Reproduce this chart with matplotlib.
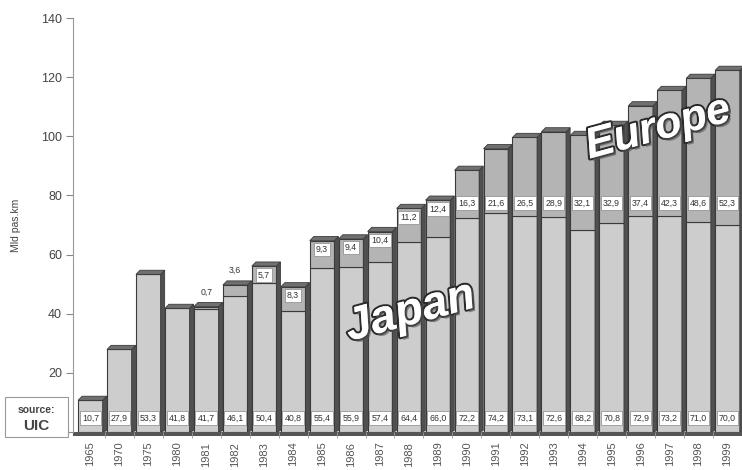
import matplotlib
matplotlib.use('Agg')
import matplotlib.pyplot as plt
import matplotlib.patheffects as pe
from matplotlib.patches import Polygon, Rectangle
import numpy as np

plt.rcParams['font.family'] = ['Liberation Sans', 'DejaVu Sans']

years = ['1965', '1970', '1975', '1980', '1981', '1982', '1983', '1984',
         '1985', '1986', '1987', '1988', '1989', '1990', '1991', '1992',
         '1993', '1994', '1995', '1996', '1997', '1998', '1999']
japan = [10.7, 27.9, 53.3, 41.8, 41.7, 46.1, 50.4, 40.8, 55.4, 55.9, 57.4,
         64.4, 66.0, 72.2, 74.2, 73.1, 72.6, 68.2, 70.8, 72.9, 73.2, 71.0, 70.0]
europe = [0, 0, 0, 0, 0.7, 3.6, 5.7, 8.3, 9.3, 9.4, 10.4, 11.2, 12.4, 16.3,
          21.6, 26.5, 28.9, 32.1, 32.9, 37.4, 42.3, 48.6, 52.3]

def fmt(v):
    return ('%.1f' % v).replace('.', ',')

fig = plt.figure(figsize=(7.42, 4.70), dpi=100)
ax = fig.add_axes([73 / 742, 38 / 470, 669 / 742, 414 / 470])

x = np.arange(len(years))
jp = np.array(japan)
eu = np.array(europe)
tot = jp + eu
w = 0.85
dx, dy = 0.14, 1.4  # fake 3d depth

c_jp = '#cdcdcd'
c_eu = '#b4b4b4'
c_side = '#505050'
c_top = '#707070'
c_edge = '#3a3a3a'

# floor
ax.add_patch(Polygon([(-0.6, 0), (23, 0), (23, -1.3), (-0.6, -1.3)],
                     closed=True, fc='#555555', ec='none', clip_on=False, zorder=1))

ax.bar(x, jp, w, color=c_jp, edgecolor=c_edge, linewidth=0.8, zorder=2)
ax.bar(x, eu, w, bottom=jp, color=c_eu, edgecolor=c_edge, linewidth=0.8, zorder=2)

for i in range(len(x)):
    l, r = x[i] - w / 2, x[i] + w / 2
    t = tot[i]
    ax.add_patch(Polygon([(r, 0), (r + dx, dy * 0.3), (r + dx, t + dy), (r, t)],
                         closed=True, fc=c_side, ec=c_edge, lw=0.6, zorder=2))
    ax.add_patch(Polygon([(l, t), (l + dx, t + dy), (r + dx, t + dy), (r, t)],
                         closed=True, fc=c_top, ec=c_edge, lw=0.6, zorder=2))

lab_box = dict(boxstyle='square,pad=0.25', fc='white', ec='#888888', lw=0.5)
for i in range(len(x)):
    ax.text(x[i], 4.7, fmt(jp[i]), ha='center', va='center', fontsize=6.3,
            color='#333333', bbox=lab_box, zorder=4)
    if eu[i] == 0:
        continue
    if eu[i] < 5:
        ax.text(x[i], tot[i] + 5, fmt(eu[i]), ha='center', va='center',
                fontsize=6.3, color='#333333', zorder=4)
    else:
        ax.text(x[i], min(tot[i] - 3.0, 77.5), fmt(eu[i]), ha='center',
                va='center', fontsize=6.3, color='#333333', bbox=lab_box, zorder=4)

big = dict(fontweight='bold', style='italic', color='white',
           ha='center', va='center', zorder=5,
           path_effects=[pe.withStroke(linewidth=3, foreground='#2a2a2a'),
                         pe.SimplePatchShadow(offset=(2, -2), shadow_rgbFace='#555555', alpha=0.6),
                         pe.Normal()])
ax.text(11.05, 40.5, 'Japan', rotation=15, fontsize=33, **big)
ax.text(19.6, 102.5, 'Europe', rotation=15, fontsize=31, **big)

ax.set_xlim(-0.6, 22.24)
ax.set_ylim(0, 140)
ax.set_yticks(np.arange(0, 141, 20))
ax.set_yticklabels([''] + [str(v) for v in range(20, 141, 20)])
ax.set_xticks(x)
ax.set_xticklabels(years, rotation=90, fontsize=8, color='#555555')
ax.set_xticks(x + 0.5, minor=True)
ax.tick_params(axis='x', which='major', length=0, pad=7)
ax.tick_params(axis='x', which='minor', length=4, color='#999999')
ax.tick_params(axis='y', length=5, color='#888888', labelsize=9, labelcolor='#444444', pad=3)
ax.set_ylabel('Mld pas.km', fontsize=7.5, color='#444444', labelpad=14)
for s in ['top', 'right', 'bottom']:
    ax.spines[s].set_visible(False)
ax.spines['left'].set_color('#999999')
ax.spines['left'].set_linewidth(0.8)

fig.add_artist(Rectangle((5 / 742, 33 / 470), 63 / 742, 40 / 470,
                         transform=fig.transFigure, fc='white', ec='#999999', lw=0.8))
fig.text(36.5 / 742, (470 - 410) / 470, 'source:', ha='center', va='center',
         fontsize=7.5, fontweight='bold', color='#444444')
fig.text(36.5 / 742, (470 - 426) / 470, 'UIC', ha='center', va='center',
         fontsize=11, fontweight='bold', color='#444444')

fig.savefig('out.png', dpi=100)
